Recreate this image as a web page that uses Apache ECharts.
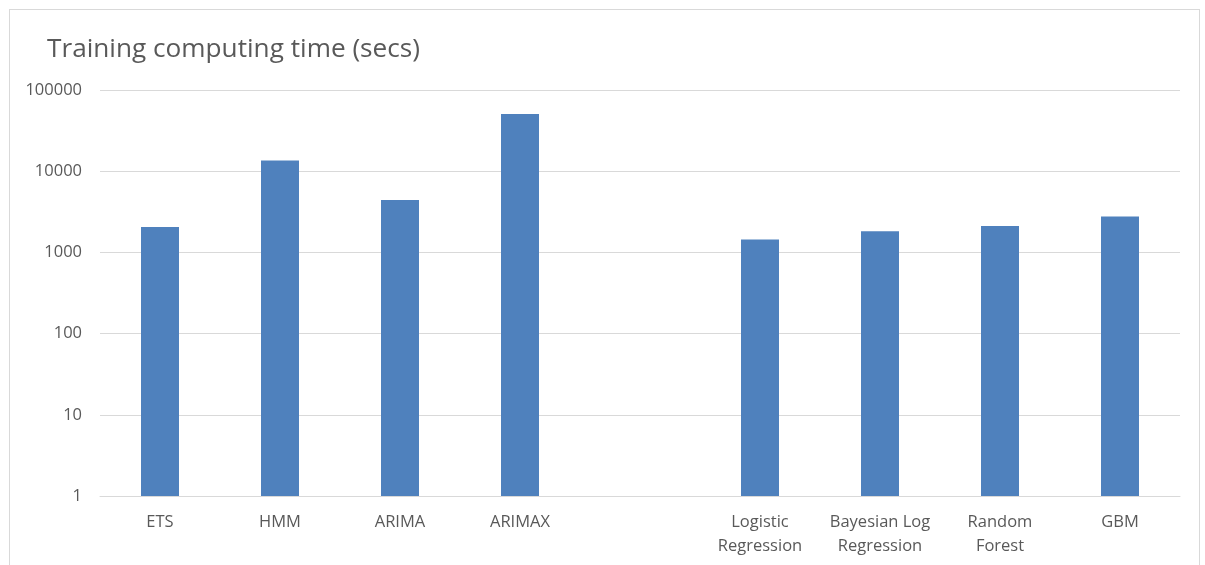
<!DOCTYPE html>
<html>
<head>
<meta charset="utf-8">
<script src="https://cdn.jsdelivr.net/npm/echarts@6/dist/echarts.min.js"></script>
<style>
  html, body { margin: 0; padding: 0; background: #fff; }
  #frame { position: absolute; left: 9px; top: 9px; width: 1191px; height: 600px; border: 1px solid #d9d9d9; box-sizing: border-box; }
  #chart { position: absolute; left: 0; top: 0; width: 1205px; height: 565px; }
</style>
</head>
<body>
<div id="frame"></div>
<div id="chart"></div>
<script>
// Model names (one blank slot separates the time-series group from the classifiers)
const categories = ['ETS', 'HMM', 'ARIMA', 'ARIMAX', '', 'Logistic\nRegression', 'Bayesian Log\nRegression', 'Random\nForest', 'GBM'];
// Training time in seconds
const trainingSecs = [2060, 13500, 4430, 50700, null, 1440, 1820, 2120, 2770];
const yTicks = [1, 10, 100, 1000, 10000, 100000];

const chart = echarts.init(document.getElementById('chart'), null, { renderer: 'canvas' });
const fontFamily = '"Open Sans", Lato, sans-serif';

chart.setOption({
  animation: false,
  title: {
    text: 'Training computing time (secs)',
    left: 42,
    top: 32,
    textStyle: { fontFamily, fontSize: 26.2, fontWeight: 'normal', color: '#595959' }
  },
  grid: { left: 100, right: 25, top: 90, bottom: 69, containLabel: false },
  xAxis: {
    type: 'category',
    data: categories,
    axisLine: { show: true, lineStyle: { color: '#d9d9d9', width: 1 } },
    axisTick: { show: false },
    axisLabel: { fontFamily, fontSize: 16.5, color: '#595959', margin: 14, lineHeight: 24, interval: 0 },
    splitLine: { show: false }
  },
  yAxis: {
    type: 'log',
    logBase: 10,
    min: yTicks[0],
    max: yTicks[yTicks.length - 1],
    axisLine: { show: false },
    axisTick: { show: false },
    axisLabel: { fontFamily, fontSize: 16.5, color: '#595959', margin: 18, formatter: v => String(Math.round(v)) },
    splitLine: { show: true, lineStyle: { color: '#d9d9d9', width: 1 } }
  },
  series: [{
    type: 'bar',
    data: trainingSecs,
    barWidth: 38,
    itemStyle: { color: '#4f81bd' }
  }]
});
</script>
</body>
</html>
